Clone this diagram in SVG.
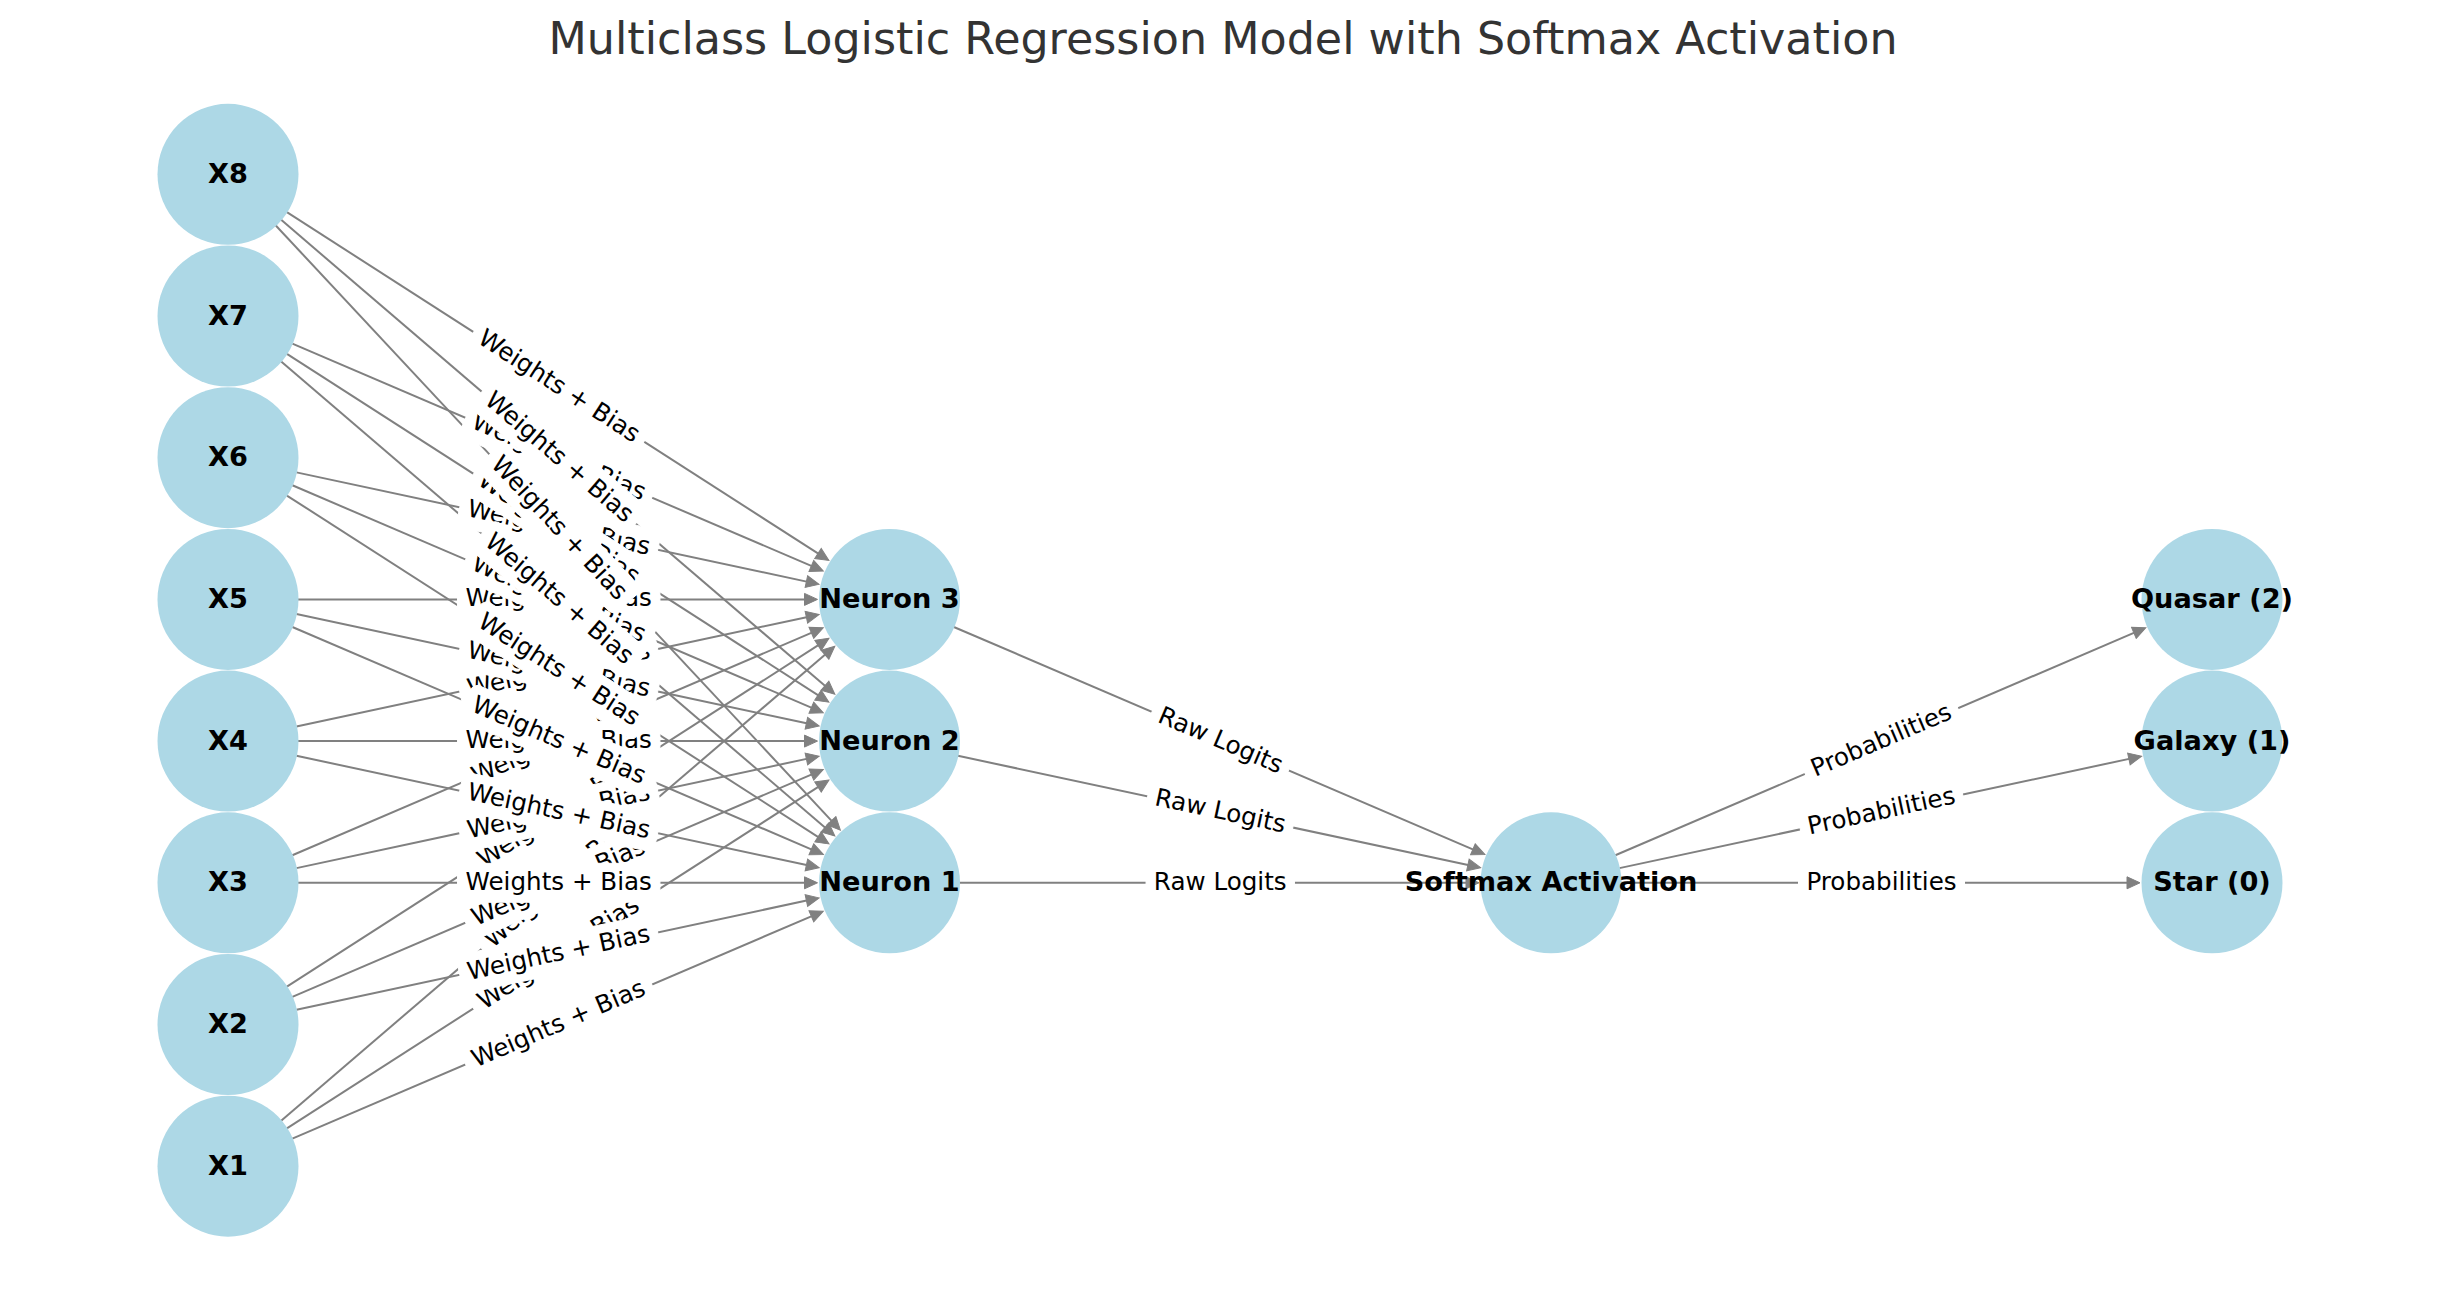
<svg xmlns="http://www.w3.org/2000/svg" width="2440" height="1290" viewBox="0 0 2440 1290">
<style>
  .bg { fill: #ffffff; }
  .title { font-family: "DejaVu Sans", "Liberation Sans", sans-serif; font-size: 44.4px; fill: #333333; text-anchor: middle; }
  .node circle { fill: #ADD8E6; }
  .node text { font-family: "DejaVu Sans", "Liberation Sans", sans-serif; font-size: 27.2px; font-weight: bold; fill: #000000; text-anchor: middle; }
  .edge { stroke: #808080; stroke-width: 2; fill: none; marker-end: url(#arrow); }
  .elabel text { font-family: "DejaVu Sans", "Liberation Sans", sans-serif; font-size: 24.6px; fill: #000000; text-anchor: middle; }
</style>
<defs>
  <marker id="arrow" viewBox="-6 -7 16 14" refX="0" refY="0" markerWidth="16" markerHeight="14" markerUnits="userSpaceOnUse" orient="auto">
    <path d="M8,0 L-5,-6 L-5,6 Z" fill="#808080" stroke="#808080" stroke-width="1"/>
  </marker>
  <rect id="wb" x="-101.2" y="-19.5" width="202.4" height="39" rx="7.4" ry="7.4" fill="#ffffff" stroke="#ffffff" stroke-width="1"/>
  <rect id="rl" x="-74.2" y="-19.5" width="148.4" height="39" rx="7.4" ry="7.4" fill="#ffffff" stroke="#ffffff" stroke-width="1"/>
  <rect id="pb" x="-83" y="-19.5" width="166" height="39" rx="7.4" ry="7.4" fill="#ffffff" stroke="#ffffff" stroke-width="1"/>
</defs>
<rect class="bg" x="0" y="0" width="2440" height="1290"/>
<text class="title" x="1223" y="54.3">Multiclass Logistic Regression Model with Softmax Activation</text>

<g id="connectors">
  <line class="edge" x1="292.34" y1="1138.63" x2="815.96" y2="914.30"/>
  <line class="edge" x1="286.89" y1="1128.36" x2="822.20" y2="784.35"/>
  <line class="edge" x1="281.16" y1="1120.65" x2="828.75" y2="651.45"/>
  <line class="edge" x1="296.45" y1="1009.84" x2="811.28" y2="899.56"/>
  <line class="edge" x1="292.34" y1="996.93" x2="815.96" y2="772.60"/>
  <line class="edge" x1="286.89" y1="986.66" x2="822.20" y2="642.65"/>
  <line class="edge" x1="298" y1="882.8" x2="809.5" y2="882.8"/>
  <line class="edge" x1="296.45" y1="868.14" x2="811.28" y2="757.86"/>
  <line class="edge" x1="292.34" y1="855.23" x2="815.96" y2="630.90"/>
  <line class="edge" x1="296.45" y1="755.76" x2="811.28" y2="866.04"/>
  <line class="edge" x1="298" y1="741.1" x2="809.5" y2="741.1"/>
  <line class="edge" x1="296.45" y1="726.44" x2="811.28" y2="616.16"/>
  <line class="edge" x1="292.34" y1="626.97" x2="815.96" y2="851.30"/>
  <line class="edge" x1="296.45" y1="614.06" x2="811.28" y2="724.34"/>
  <line class="edge" x1="298" y1="599.4" x2="809.5" y2="599.4"/>
  <line class="edge" x1="286.89" y1="495.54" x2="822.20" y2="839.55"/>
  <line class="edge" x1="292.34" y1="485.27" x2="815.96" y2="709.60"/>
  <line class="edge" x1="296.45" y1="472.36" x2="811.28" y2="582.64"/>
  <line class="edge" x1="281.16" y1="361.55" x2="828.75" y2="830.75"/>
  <line class="edge" x1="286.89" y1="353.84" x2="822.20" y2="697.85"/>
  <line class="edge" x1="292.34" y1="343.57" x2="815.96" y2="567.90"/>
  <line class="edge" x1="275.77" y1="225.47" x2="834.90" y2="824.33"/>
  <line class="edge" x1="281.16" y1="219.85" x2="828.75" y2="689.05"/>
  <line class="edge" x1="286.89" y1="212.14" x2="822.20" y2="556.15"/>
  <line class="edge" x1="959.5" y1="882.8" x2="1471" y2="882.8"/>
  <line class="edge" x1="957.95" y1="755.76" x2="1472.78" y2="866.04"/>
  <line class="edge" x1="953.84" y1="626.97" x2="1477.46" y2="851.30"/>
  <line class="edge" x1="1621" y1="882.8" x2="2132" y2="882.8"/>
  <line class="edge" x1="1619.45" y1="868.14" x2="2133.78" y2="757.86"/>
  <line class="edge" x1="1615.34" y1="855.23" x2="2138.46" y2="630.90"/>
</g>

<g id="node-X1" class="node"><circle cx="228" cy="1166.2" r="70.5"/><text x="228" y="1166.2" dy="8.5">X1</text></g>
<g id="node-X2" class="node"><circle cx="228" cy="1024.5" r="70.5"/><text x="228" y="1024.5" dy="8.5">X2</text></g>
<g id="node-X3" class="node"><circle cx="228" cy="882.8" r="70.5"/><text x="228" y="882.8" dy="8.5">X3</text></g>
<g id="node-X4" class="node"><circle cx="228" cy="741.1" r="70.5"/><text x="228" y="741.1" dy="8.5">X4</text></g>
<g id="node-X5" class="node"><circle cx="228" cy="599.4" r="70.5"/><text x="228" y="599.4" dy="8.5">X5</text></g>
<g id="node-X6" class="node"><circle cx="228" cy="457.7" r="70.5"/><text x="228" y="457.7" dy="8.5">X6</text></g>
<g id="node-X7" class="node"><circle cx="228" cy="316" r="70.5"/><text x="228" y="316" dy="8.5">X7</text></g>
<g id="node-X8" class="node"><circle cx="228" cy="174.3" r="70.5"/><text x="228" y="174.3" dy="8.5">X8</text></g>
<g id="node-N1" class="node"><circle cx="889.5" cy="882.8" r="70.5"/><text x="889.5" y="882.8" dy="8.5">Neuron 1</text></g>
<g id="node-N2" class="node"><circle cx="889.5" cy="741.1" r="70.5"/><text x="889.5" y="741.1" dy="8.5">Neuron 2</text></g>
<g id="node-N3" class="node"><circle cx="889.5" cy="599.4" r="70.5"/><text x="889.5" y="599.4" dy="8.5">Neuron 3</text></g>
<g id="node-softmax" class="node"><circle cx="1551" cy="882.8" r="70.5"/><text x="1551" y="882.8" dy="8.5">Softmax Activation</text></g>
<g id="node-star" class="node"><circle cx="2212" cy="882.8" r="70.5"/><text x="2212" y="882.8" dy="8.5">Star (0)</text></g>
<g id="node-galaxy" class="node"><circle cx="2212" cy="741.1" r="70.5"/><text x="2212" y="741.1" dy="8.5">Galaxy (1)</text></g>
<g id="node-quasar" class="node"><circle cx="2212" cy="599.4" r="70.5"/><text x="2212" y="599.4" dy="8.5">Quasar (2)</text></g>

<g id="edge-labels">
  <g class="elabel" transform="translate(558.75,1024.5) rotate(-23.19)"><use href="#wb"/><text y="7">Weights + Bias</text></g>
  <g class="elabel" transform="translate(558.75,953.65) rotate(-32.73)"><use href="#wb"/><text y="7">Weights + Bias</text></g>
  <g class="elabel" transform="translate(558.75,882.8) rotate(-40.59)"><use href="#wb"/><text y="7">Weights + Bias</text></g>
  <g class="elabel" transform="translate(558.75,953.65) rotate(-12.09)"><use href="#wb"/><text y="7">Weights + Bias</text></g>
  <g class="elabel" transform="translate(558.75,882.8) rotate(-23.19)"><use href="#wb"/><text y="7">Weights + Bias</text></g>
  <g class="elabel" transform="translate(558.75,811.95) rotate(-32.73)"><use href="#wb"/><text y="7">Weights + Bias</text></g>
  <g class="elabel" transform="translate(558.75,882.8)"><use href="#wb"/><text y="7">Weights + Bias</text></g>
  <g class="elabel" transform="translate(558.75,811.95) rotate(-12.09)"><use href="#wb"/><text y="7">Weights + Bias</text></g>
  <g class="elabel" transform="translate(558.75,741.1) rotate(-23.19)"><use href="#wb"/><text y="7">Weights + Bias</text></g>
  <g class="elabel" transform="translate(558.75,811.95) rotate(12.09)"><use href="#wb"/><text y="7">Weights + Bias</text></g>
  <g class="elabel" transform="translate(558.75,741.1)"><use href="#wb"/><text y="7">Weights + Bias</text></g>
  <g class="elabel" transform="translate(558.75,670.25) rotate(-12.09)"><use href="#wb"/><text y="7">Weights + Bias</text></g>
  <g class="elabel" transform="translate(558.75,741.1) rotate(23.19)"><use href="#wb"/><text y="7">Weights + Bias</text></g>
  <g class="elabel" transform="translate(558.75,670.25) rotate(12.09)"><use href="#wb"/><text y="7">Weights + Bias</text></g>
  <g class="elabel" transform="translate(558.75,599.4)"><use href="#wb"/><text y="7">Weights + Bias</text></g>
  <g class="elabel" transform="translate(558.75,670.25) rotate(32.73)"><use href="#wb"/><text y="7">Weights + Bias</text></g>
  <g class="elabel" transform="translate(558.75,599.4) rotate(23.19)"><use href="#wb"/><text y="7">Weights + Bias</text></g>
  <g class="elabel" transform="translate(558.75,528.55) rotate(12.09)"><use href="#wb"/><text y="7">Weights + Bias</text></g>
  <g class="elabel" transform="translate(558.75,599.4) rotate(40.59)"><use href="#wb"/><text y="7">Weights + Bias</text></g>
  <g class="elabel" transform="translate(558.75,528.55) rotate(32.73)"><use href="#wb"/><text y="7">Weights + Bias</text></g>
  <g class="elabel" transform="translate(558.75,457.7) rotate(23.19)"><use href="#wb"/><text y="7">Weights + Bias</text></g>
  <g class="elabel" transform="translate(558.75,528.55) rotate(46.97)"><use href="#wb"/><text y="7">Weights + Bias</text></g>
  <g class="elabel" transform="translate(558.75,457.7) rotate(40.59)"><use href="#wb"/><text y="7">Weights + Bias</text></g>
  <g class="elabel" transform="translate(558.75,386.85) rotate(32.73)"><use href="#wb"/><text y="7">Weights + Bias</text></g>
  <g class="elabel" transform="translate(1220.25,882.8)"><use href="#rl"/><text y="7">Raw Logits</text></g>
  <g class="elabel" transform="translate(1220.25,811.95) rotate(12.09)"><use href="#rl"/><text y="7">Raw Logits</text></g>
  <g class="elabel" transform="translate(1220.25,741.1) rotate(23.19)"><use href="#rl"/><text y="7">Raw Logits</text></g>
  <g class="elabel" transform="translate(1881.5,882.8)"><use href="#pb"/><text y="7">Probabilities</text></g>
  <g class="elabel" transform="translate(1881.5,811.95) rotate(-12.09)"><use href="#pb"/><text y="7">Probabilities</text></g>
  <g class="elabel" transform="translate(1881.5,741.1) rotate(-23.19)"><use href="#pb"/><text y="7">Probabilities</text></g>
</g>
</svg>
